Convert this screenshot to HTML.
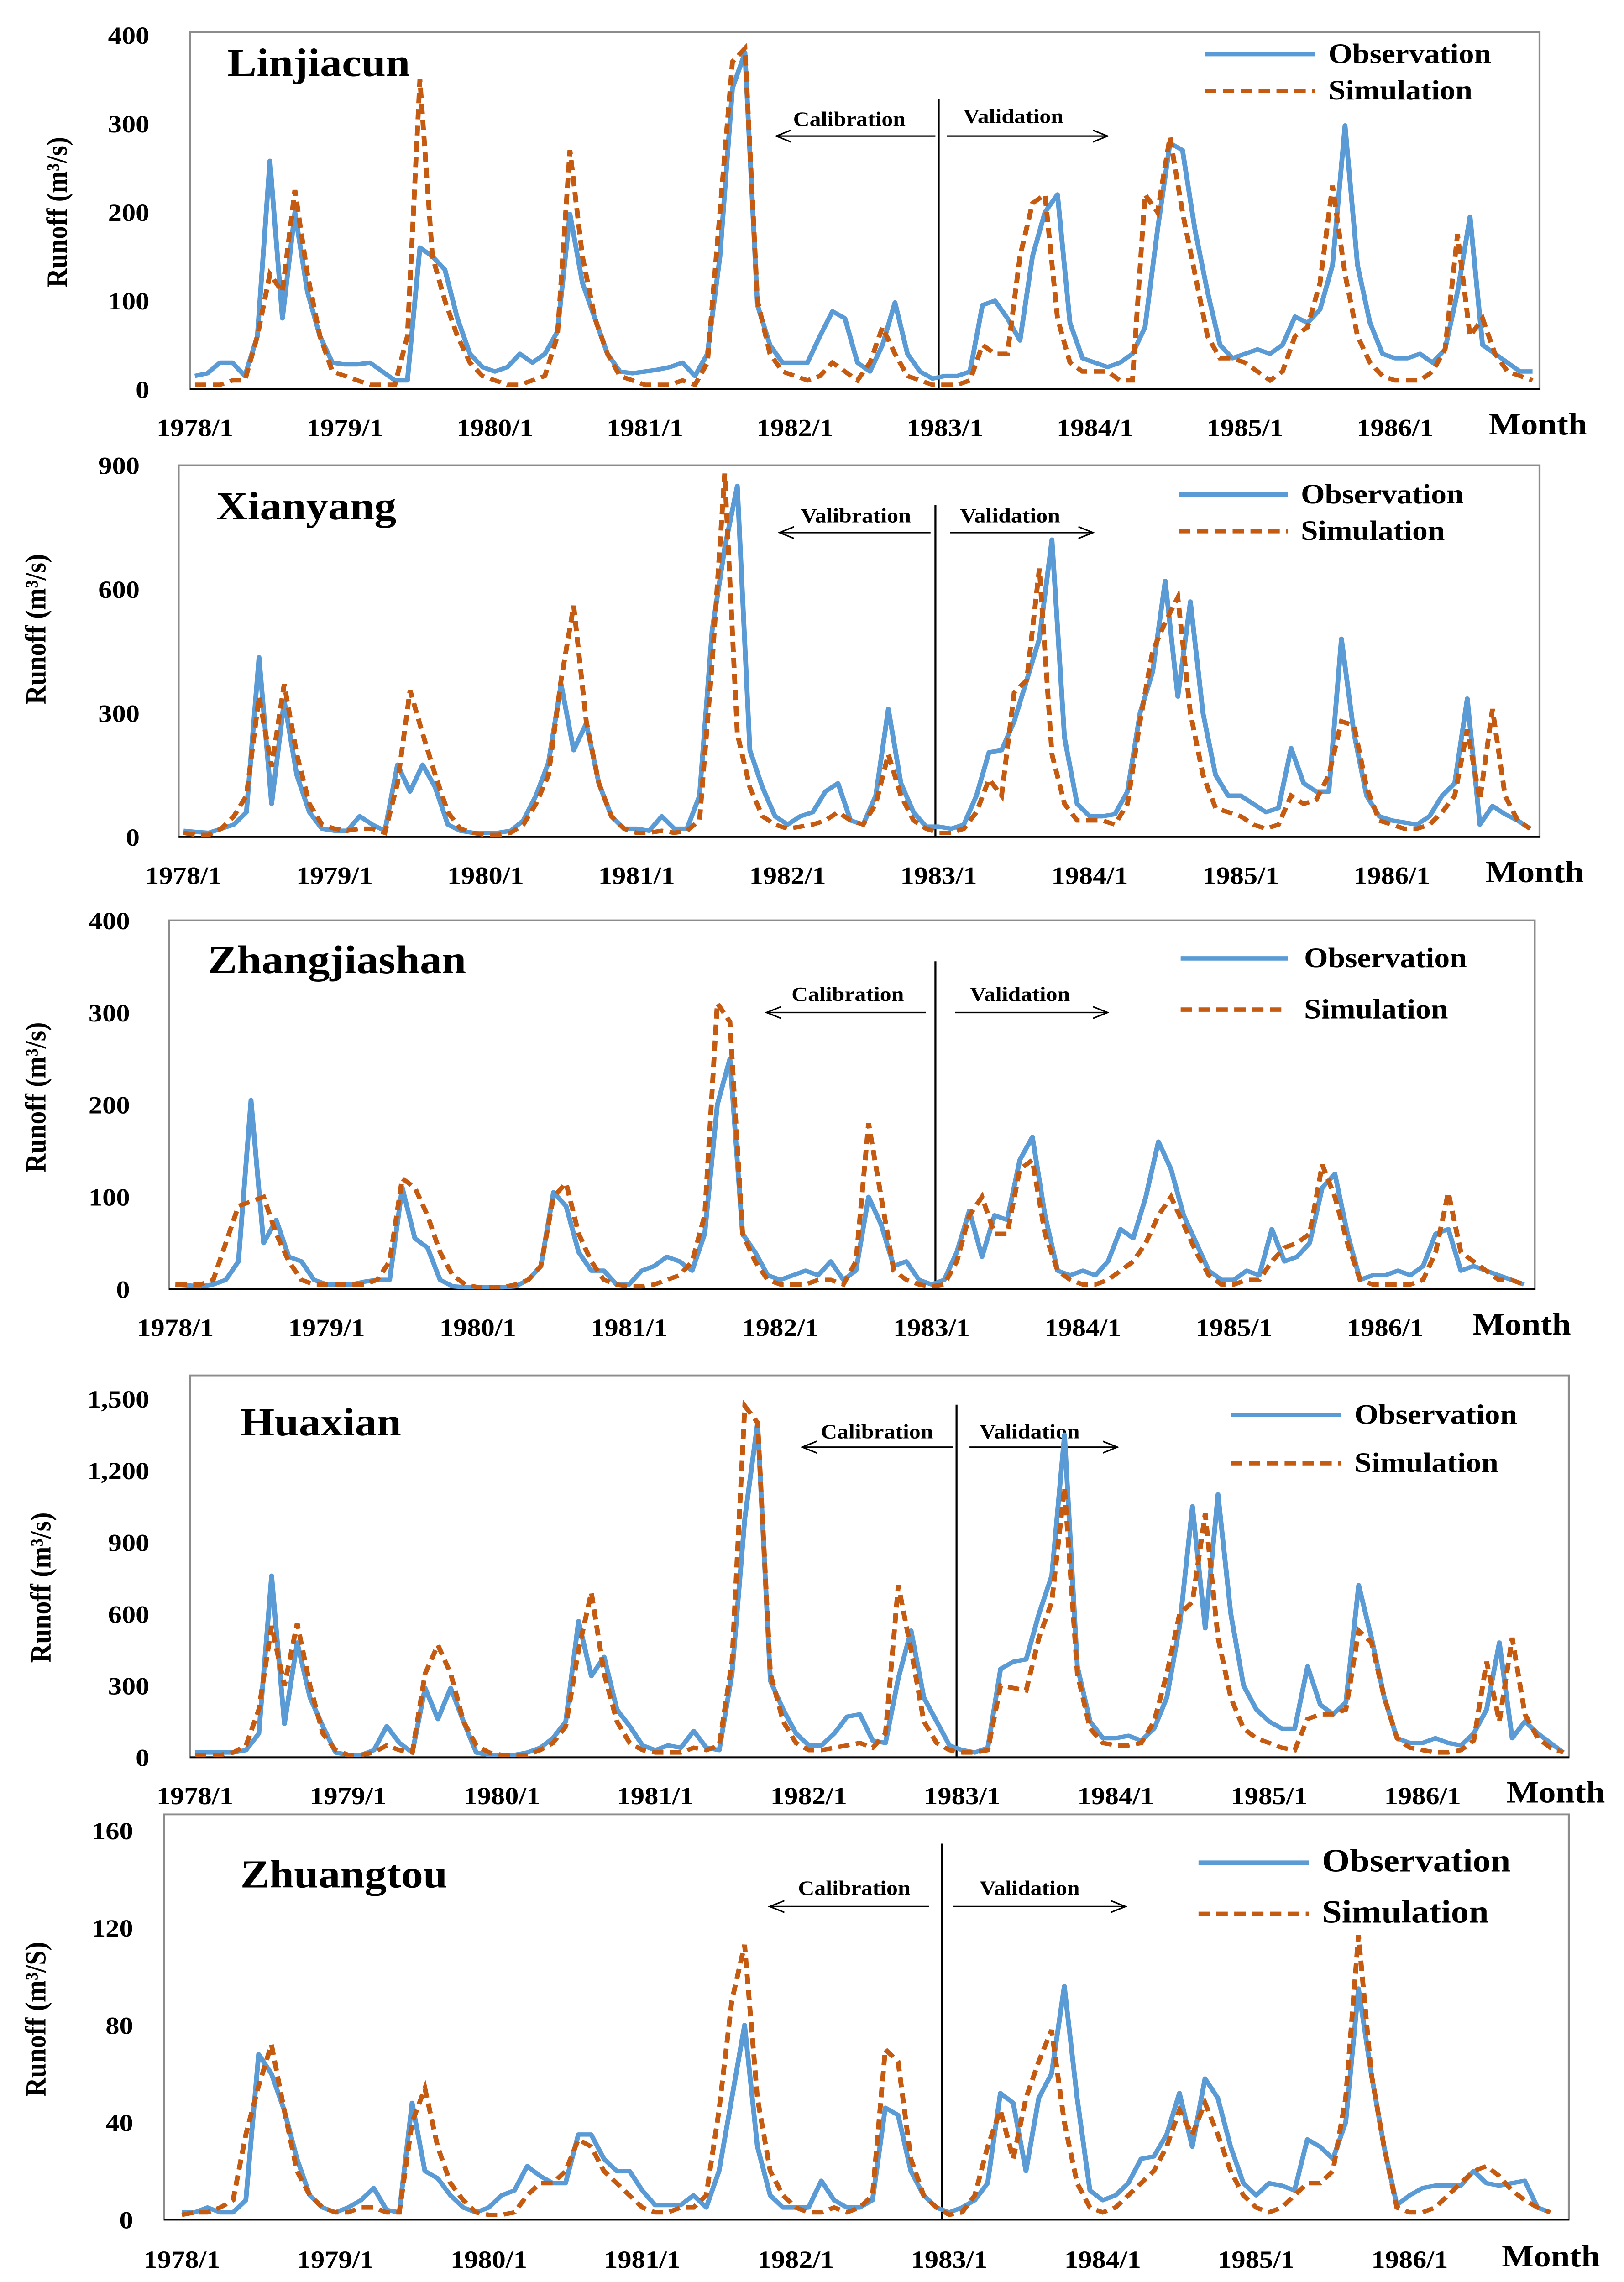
<!DOCTYPE html>
<html><head><meta charset="utf-8">
<style>
html,body{margin:0;padding:0;background:#fff;width:100%;height:100%;overflow:hidden;}
svg{display:block;position:fixed;left:0;top:0;width:100vw;height:100vh;font-family:"Liberation Serif",serif;font-weight:bold;}
</style></head>
<body>
<svg id="chart" xmlns="http://www.w3.org/2000/svg" viewBox="0 0 1000 1559.6" preserveAspectRatio="none">
<rect x="0" y="0" width="1000" height="1560" fill="#fff"/>
</svg>
<script>
const yearLabels = ["1978/1","1979/1","1980/1","1981/1","1982/1","1983/1","1984/1","1985/1","1986/1"];

const linObs = [15,18,30,30,15,60,258,80,200,110,60,30, 28,28,30,20,10,10,160,150,135,80,40,25, 20,25,40,30,40,65,198,120,80,40,20,18, 20,22,25,30,15,40,150,340,380,95,50,30, 30,30,60,88,80,30,20,50,98,40,20,12, 15,15,20,95,100,80,55,150,200,220,75,35, 30,25,30,40,70,180,278,270,180,110,50,35, 40,45,40,50,82,75,90,140,298,140,75,40, 35,35,40,30,45,110,195,50,40,30,20,20];
const linSim = [5,5,5,10,10,60,130,110,225,130,60,20, 15,10,5,5,5,60,350,150,100,60,30,15, 10,5,5,10,15,60,270,150,80,40,15,10, 5,5,5,10,5,30,200,370,385,100,40,20, 15,10,15,30,20,10,30,70,40,15,10,5, 5,5,10,50,40,40,150,210,220,80,30,20, 20,20,10,10,220,200,285,200,130,60,35,35, 30,20,10,20,60,70,120,230,130,60,30,15, 10,10,10,20,45,175,60,80,40,20,15,10];

const xianObs = [15,12,10,20,30,60,435,80,330,150,60,20, 15,15,50,30,15,175,110,175,120,30,15,10, 10,10,15,40,100,180,370,210,275,130,50,20, 20,15,50,20,20,100,500,700,850,210,120,50, 30,50,60,110,130,40,30,100,310,130,60,25, 25,20,30,100,205,210,280,380,480,720,240,80, 50,50,55,110,300,400,620,340,570,300,150,100, 100,80,60,70,215,130,110,110,480,250,100,50, 40,35,30,50,100,130,335,30,75,55,40,20];
const xianSim = [10,5,5,20,50,100,340,170,370,200,80,30, 20,15,20,20,10,130,355,250,150,60,20,10, 5,5,10,30,80,150,380,560,280,130,50,20, 10,10,15,10,15,40,420,880,250,120,50,30, 20,25,30,40,60,40,30,80,200,100,40,20, 10,10,20,60,140,100,350,380,650,200,80,40, 40,40,30,80,280,450,520,580,300,150,70,60, 50,30,20,30,100,80,90,150,280,270,120,40, 30,20,20,30,60,100,260,90,310,100,40,20];

const zhangObs = [5,4,3,5,10,30,205,50,75,35,30,10, 5,5,5,8,10,10,110,55,45,10,3,2, 2,2,2,3,10,25,105,90,40,20,20,5, 5,20,25,35,30,20,60,200,250,60,40,15, 10,15,20,15,30,10,20,100,70,25,30,10, 5,10,40,85,35,80,75,140,165,80,20,15, 20,15,30,65,55,100,160,130,80,50,20,10, 10,20,15,65,30,35,50,110,125,60,10,15, 15,20,15,25,60,65,20,25,20,15,10,5];
const zhangSim = [5,5,5,10,50,90,95,100,60,30,10,5, 5,5,5,5,10,30,120,110,80,40,15,5, 2,2,2,5,10,25,100,115,60,30,10,5, 3,3,5,10,15,30,80,310,290,60,30,10, 5,5,5,10,10,5,30,180,100,20,10,5, 3,5,30,80,100,60,60,130,140,60,20,10, 5,5,10,20,30,50,80,100,70,40,15,5, 5,10,10,30,45,50,60,135,100,50,10,5, 5,5,5,10,40,105,40,30,20,10,10,5];

const huaObs = [20,20,20,20,30,100,760,140,480,250,130,20, 10,10,30,130,60,20,290,160,290,150,20,10, 10,10,20,40,80,150,570,340,420,200,130,50, 30,50,40,110,40,30,350,1000,1400,320,200,100, 50,50,100,170,180,70,60,330,530,250,150,50, 30,20,40,370,400,410,600,760,1350,380,150,80, 80,90,70,120,250,550,1050,540,1100,600,300,200, 150,120,120,380,220,180,230,720,500,250,80,60, 60,80,60,50,100,200,480,80,150,100,60,20];
const huaSim = [10,10,10,20,50,200,550,300,560,300,100,30, 10,10,20,50,30,20,350,470,350,150,50,20, 10,10,10,30,60,130,450,690,350,150,60,30, 20,20,20,40,30,50,400,1470,1400,350,150,60, 30,30,40,50,60,40,100,720,450,150,60,30, 20,20,30,300,290,280,500,650,1130,350,120,60, 50,50,60,150,350,600,650,1020,500,250,120,80, 60,40,30,160,180,180,200,530,480,250,80,40, 30,20,20,30,70,400,150,500,180,80,40,20];

const zhuObs = [3,3,5,3,3,8,68,60,45,25,10,5, 3,5,8,13,4,3,48,20,17,10,5,3, 5,10,12,22,18,15,15,35,35,25,20,20, 12,6,6,6,10,5,20,50,80,30,10,5, 5,5,16,8,5,5,8,46,43,20,10,5, 3,5,8,15,52,48,20,50,60,96,50,12, 8,10,15,25,26,35,52,30,58,50,30,15, 10,15,14,12,33,30,25,40,95,60,30,6, 10,13,14,14,14,20,15,14,15,16,5,3];
const zhuSim = [2,3,3,5,8,35,55,72,45,20,10,5, 3,3,5,5,3,3,40,54,30,15,8,3, 2,2,3,10,15,15,20,33,30,20,15,10, 5,3,3,5,5,10,45,90,113,50,20,10, 5,3,3,5,3,5,10,70,65,25,10,5, 2,3,10,30,45,25,50,65,78,40,15,5, 3,5,10,15,20,30,45,35,48,35,20,10, 5,3,5,10,15,15,20,50,117,60,30,5, 3,3,5,10,15,20,22,18,12,8,5,3];

const linTicks = [0,100,200,300,400];
const xianTicks = [0,300,600,900];
const zhangTicks = [0,100,200,300,400];
const huaTicks = [0,300,600,900,1200,1500];
const zhuTicks = [0,40,80,120,160];

const NS = "http://www.w3.org/2000/svg";
const svg = document.getElementById("chart");
function mk(tag, attrs, parent){ const e=document.createElementNS(NS,tag); for(const k in attrs) e.setAttribute(k,attrs[k]); (parent||svg).appendChild(e); return e; }
function fmt(v){ return v.toLocaleString("en-US"); }

const panels = [
 {key:"linjiacun",title:"Linjiacun",obs:linObs,sim:linSim,ticks:linTicks,max:400,
  fl:117,fr:948,ft:22,y0:266,ytop:24,xs:[120,859],xlY:298,month:947,ttl:[140,52],
  leg:{x1:742,x2:810,yo:37,ys:62,tx:818,fs:19},cal:{t:"Calibration",tx:523,ty:86,ay:93,a1:576,a2:478,vx:578,vt:68,v2x:624,v2y:84,b1:583,b2:682},yt:[35,145],ylab:"Runoff (m³/s)",ylx:92},
 {key:"xianyang",title:"Xianyang",obs:xianObs,sim:xianSim,ticks:xianTicks,max:900,
  fl:110,fr:948,ft:318,y0:572,ytop:318,xs:[113,857],xlY:604,month:945,ttl:[133,355],
  leg:{x1:726,x2:793,yo:338,ys:363,tx:801,fs:19},cal:{t:"Valibration",tx:527,ty:357,ay:364,a1:573,a2:480,vx:576,vt:345,v2x:622,v2y:357,b1:585,b2:673},yt:[22,430],ylab:"Runoff (m³/s)",ylx:86},
 {key:"zhangjiashan",title:"Zhangjiashan",obs:zhangObs,sim:zhangSim,ticks:zhangTicks,max:400,
  fl:104,fr:945,ft:629,y0:881,ytop:629,xs:[108,853],xlY:913,month:937,ttl:[128,665],
  leg:{x1:727,x2:793,yo:655,ys:690,tx:803,fs:19},cal:{t:"Calibration",tx:522,ty:684,ay:692,a1:570,a2:472,vx:576,vt:657,v2x:628,v2y:684,b1:588,b2:682},yt:[22,750],ylab:"Runoff (m³/s)",ylx:80},
 {key:"huaxian",title:"Huaxian",obs:huaObs,sim:huaSim,ticks:huaTicks,max:1500,
  fl:117,fr:966,ft:940,y0:1201,ytop:956,xs:[120,876],xlY:1233,month:958,ttl:[148,981],
  leg:{x1:758,x2:826,yo:967,ys:1000,tx:834,fs:19},cal:{t:"Calibration",tx:540,ty:983,ay:989,a1:587,a2:494,vx:589,vt:960,v2x:634,v2y:983,b1:597,b2:688},yt:[25,1085],ylab:"Runoff (m³/s)",ylx:92},
 {key:"zhuangtou",title:"Zhuangtou",obs:zhuObs,sim:zhuSim,ticks:zhuTicks,max:160,
  fl:101,fr:966,ft:1240,y0:1517,ytop:1251,xs:[112,868],xlY:1550,month:955,ttl:[148,1290],
  leg:{x1:738,x2:806,yo:1273,ys:1308,tx:814,fs:22},cal:{t:"Calibration",tx:526,ty:1295,ay:1303,a1:572,a2:474,vx:580,vt:1260,v2x:634,v2y:1295,b1:587,b2:693},yt:[22,1380],ylab:"Runoff (m³/S)",ylx:82}
];

const defs = mk("defs",{});
const m = mk("marker",{id:"arr",viewBox:"0 0 10 10",refX:"9",refY:"5",markerWidth:"10",markerHeight:"10",markerUnits:"userSpaceOnUse",orient:"auto"},defs);
mk("path",{d:"M0,1 L9,5 L0,9",fill:"none",stroke:"#000","stroke-width":"1"},m);

panels.forEach(p=>{
  const g = mk("g",{});
  
  
  const yS = v => p.y0 - (v/p.max)*(p.y0-p.ytop);
  const step = (p.xs[1]-p.xs[0])/96;
  const xS = i => p.xs[0] + i*step;
  const fr = mk("rect",{x:p.fl,y:p.ft,width:p.fr-p.fl,height:p.y0-p.ft,fill:"none",stroke:"#8c8c8c","stroke-width":"1.2"},g);
  
  
  const ax = mk("line",{x1:p.fl,x2:p.fr,y1:p.y0,y2:p.y0,stroke:"#000","stroke-width":"1.2"},g);
  
  
  p.ticks.forEach(t=>{
    const tl = mk("text",{x:p.ylx,y:yS(t)+6,"text-anchor":"end","font-size":"17"},g);
    tl.textContent = fmt(t);
    
    
  });
  yearLabels.forEach((lab,k)=>{
    const tl = mk("text",{x:xS(k*12),y:p.xlY,"text-anchor":"middle","font-size":"17"},g);
    tl.textContent = lab;
    
    
  });
  const mo = mk("text",{x:p.month,y:p.xlY-1,"text-anchor":"middle","font-size":"21"},g);
  mo.textContent = "Month";
  
  
  const yt = mk("text",{x:p.yt[0],y:p.yt[1],"text-anchor":"middle","font-size":"18",transform:`rotate(-90 ${p.yt[0]} ${p.yt[1]})`,dy:"6"},g);
  yt.textContent = p.ylab;
  
  
  const tt = mk("text",{x:p.ttl[0],y:p.ttl[1],"font-size":"27"},g);
  tt.textContent = p.title;
  
  
  const c = p.cal;
  const vl = mk("line",{x1:c.vx,x2:c.vx,y1:c.vt,y2:p.y0,stroke:"#000","stroke-width":"1.2"},g);
  
  
  const ct = mk("text",{x:c.tx,y:c.ty,"text-anchor":"middle","font-size":"14"},g);
  ct.textContent = c.t;
  
  
  const vt = mk("text",{x:c.v2x,y:c.v2y,"text-anchor":"middle","font-size":"14"},g);
  vt.textContent = "Validation";
  
  
  const a1 = mk("line",{x1:c.a1,x2:c.a2,y1:c.ay,y2:c.ay,stroke:"#000","stroke-width":"1","marker-end":"url(#arr)"},g);
  
  
  const a2 = mk("line",{x1:c.b1,x2:c.b2,y1:c.ay,y2:c.ay,stroke:"#000","stroke-width":"1","marker-end":"url(#arr)"},g);
  
  
  const ptsO = p.obs.map((v,i)=>xS(i).toFixed(2)+","+yS(v).toFixed(2)).join(" ");
  const ptsS = p.sim.map((v,i)=>xS(i).toFixed(2)+","+yS(v).toFixed(2)).join(" ");
  const lo = mk("polyline",{points:ptsO,fill:"none",stroke:"#5B9BD5","stroke-width":"3","stroke-linejoin":"round"},g);
  
  
  const ls = mk("polyline",{points:ptsS,fill:"none",stroke:"#C55A11","stroke-width":"3","stroke-dasharray":"7,4"},g);
  
  
  const L = p.leg;
  const lg = mk("g",{},g);
  
  
  const l1 = mk("line",{x1:L.x1,x2:L.x2,y1:L.yo,y2:L.yo,stroke:"#5B9BD5","stroke-width":"3"},lg);
  
  
  const t1 = mk("text",{x:L.tx,y:L.yo+6,"font-size":L.fs},lg);
  t1.textContent = "Observation";
  
  
  const l2 = mk("line",{x1:L.x1,x2:L.x2,y1:L.ys,y2:L.ys,stroke:"#C55A11","stroke-width":"3","stroke-dasharray":"7,4"},lg);
  
  
  const t2 = mk("text",{x:L.tx,y:L.ys+6,"font-size":L.fs},lg);
  t2.textContent = "Simulation";
  
  
});
</script>
</body></html>
